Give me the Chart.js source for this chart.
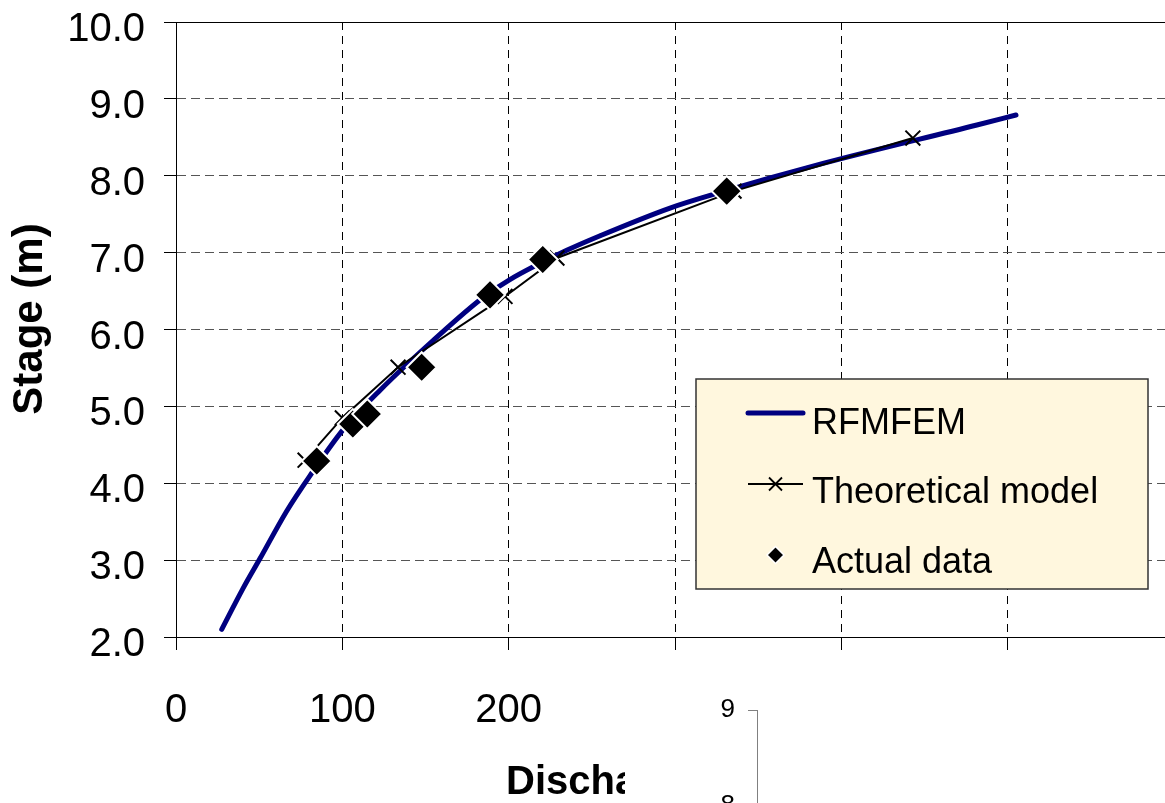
<!DOCTYPE html>
<html>
<head>
<meta charset="utf-8">
<script src="https://cdn.jsdelivr.net/npm/chart.js@4.4.1/dist/chart.umd.min.js"></script>
<style>
  html, body { margin: 0; padding: 0; background: #fff; overflow: hidden; }
  #main { position: absolute; left: 0; top: 0; width: 1174px; height: 803px; }
  #inset { position: absolute; left: 625px; top: 655px; width: 540px; height: 148px; background: #fff; overflow: hidden; }
  #insetWrap { position: absolute; left: 0; top: 0; width: 540px; height: 260px; }
</style>
</head>
<body>
<div id="main"><canvas id="ratingChart"></canvas></div>
<div id="inset"><div id="insetWrap"><canvas id="insetChart"></canvas></div></div>
<script>
  // Discharge (Q) / stage (H) pairs
  const rfmQ = [27.5, 40, 50.5, 66.6, 80.6, 100.6, 122.7, 154.7, 184.8, 200, 234.9, 255, 297, 325, 389, 481.5, 505];
  const rfmH = [2.10, 2.62, 3.02, 3.64, 4.10, 4.70, 5.21, 5.86, 6.42, 6.64, 7.03, 7.22, 7.58, 7.77, 8.16, 8.66, 8.79];

  const theoQ = [77.6, 100, 133.5, 197.8, 229, 335.5, 443];
  const theoH = [4.30, 4.85, 5.51, 6.43, 6.93, 7.80, 8.49];

  const obsQ = [84.6, 106.3, 115.0, 147.7, 188.8, 220.5, 331.1];
  const obsH = [4.29, 4.77, 4.90, 5.51, 6.45, 6.91, 7.80];

  const xMax = 600;
  const xTicks = [0, 100, 200, 300, 400, 500];
  const yTicks = [2, 3, 4, 5, 6, 7, 8, 9, 10];
  const insetTicks = [7, 8, 9];

  const NAVY = '#000080';
  const FONT = "'Liberation Sans', Arial, sans-serif";
  const PLOT_RIGHT = 1174;   // the plot runs a little past the right edge of the window

  function pairs(xs, ys) {
    return xs.map(function (x, i) { return { x: x, y: ys[i] }; });
  }

  /* ─── frame round the plot area ─── */
  const plotFrame = {
    id: 'plotFrame',
    beforeDatasetsDraw(chart) {
      const a = chart.chartArea, ctx = chart.ctx;
      ctx.save();
      ctx.strokeStyle = '#000';
      ctx.lineWidth = 1;
      ctx.strokeRect(Math.round(a.left) + 0.5, Math.round(a.top) + 0.5,
        Math.round(a.right - a.left), Math.round(a.bottom - a.top));
      ctx.restore();
    }
  };

  /* ─── legend box inside the plot ─── */
  const boxLegend = {
    id: 'boxLegend',
    afterDatasetsDraw(chart, args, opts) {
      const ctx = chart.ctx, b = opts.box;
      ctx.save();
      ctx.fillStyle = '#FFF7DE';
      ctx.strokeStyle = '#333';
      ctx.lineWidth = 1.5;
      ctx.fillRect(b.left, b.top, b.right - b.left, b.bottom - b.top);
      ctx.strokeRect(b.left, b.top, b.right - b.left, b.bottom - b.top);

      const sets = chart.data.datasets.slice().sort(function (p, q) { return q.order - p.order; });
      sets.forEach(function (ds, i) {
        const sy = opts.sampleY[i];
        if (ds.showLine) {
          ctx.strokeStyle = ds.borderColor;
          ctx.lineWidth = ds.borderWidth;
          ctx.lineCap = ds.borderCapStyle || 'butt';
          ctx.beginPath();
          ctx.moveTo(opts.lineX[0], sy);
          ctx.lineTo(opts.lineX[1], sy);
          ctx.stroke();
        }
        const mx = (opts.lineX[0] + opts.lineX[1]) / 2;
        if (ds.pointStyle === 'crossRot') {
          const r = 6.5;
          ctx.strokeStyle = '#000';
          ctx.lineWidth = 1.8;
          ctx.lineCap = 'butt';
          ctx.beginPath();
          ctx.moveTo(mx - r, sy - r); ctx.lineTo(mx + r, sy + r);
          ctx.moveTo(mx + r, sy - r); ctx.lineTo(mx - r, sy + r);
          ctx.stroke();
        } else if (ds.pointStyle === 'rectRot') {
          const r = 8.5;
          ctx.beginPath();
          ctx.moveTo(mx, sy - r); ctx.lineTo(mx + r, sy);
          ctx.lineTo(mx, sy + r); ctx.lineTo(mx - r, sy);
          ctx.closePath();
          ctx.fillStyle = '#000';
          ctx.fill();
          ctx.strokeStyle = '#fff';
          ctx.lineWidth = 1.5;
          ctx.stroke();
        }
        ctx.fillStyle = '#000';
        ctx.font = '36px ' + FONT;
        ctx.textAlign = 'left';
        ctx.textBaseline = 'alphabetic';
        ctx.fillText(ds.label, opts.textX, opts.baseY[i]);
      });
      ctx.restore();
    }
  };

  const main = document.getElementById('main');
  const chart = new Chart(document.getElementById('ratingChart'), {
    type: 'scatter',
    data: {
      datasets: [{
        label: 'RFMFEM',
        data: pairs(rfmQ, rfmH),
        showLine: true,
        borderColor: NAVY,
        borderWidth: 5,
        borderCapStyle: 'round',
        borderJoinStyle: 'round',
        cubicInterpolationMode: 'monotone',
        pointRadius: 0,
        pointHoverRadius: 0,
        order: 3
      }, {
        label: 'Theoretical model',
        data: pairs(theoQ, theoH),
        showLine: true,
        borderColor: '#000',
        borderWidth: 2,
        tension: 0,
        pointStyle: 'crossRot',
        pointRadius: 10.5,
        pointBorderColor: '#000',
        pointBorderWidth: 2,
        order: 2
      }, {
        label: 'Actual data',
        data: pairs(obsQ, obsH),
        showLine: false,
        pointStyle: 'rectRot',
        pointRadius: 15,
        pointBackgroundColor: '#000',
        pointBorderColor: '#fff',
        pointBorderWidth: 2,
        order: 1
      }]
    },
    options: {
      responsive: true,
      maintainAspectRatio: false,
      animation: false,
      layout: { padding: { top: 22, right: 0, bottom: 0, left: 0 } },
      plugins: {
        legend: { display: false },
        tooltip: { enabled: false },
        boxLegend: {
          box: { left: 696, top: 379, right: 1148, bottom: 589 },
          lineX: [748, 803],
          sampleY: [413, 484, 555],
          baseY: [434, 503, 573],
          textX: 812
        }
      },
      scales: {
        x: {
          type: 'linear',
          min: xTicks[0],
          max: xMax,
          afterBuildTicks: function (s) { s.ticks = xTicks.map(function (v) { return { value: v }; }); },
          afterFit: function (s) { s.height = 166; s.paddingLeft = 0; s.paddingRight = 0; },
          ticks: {
            color: '#000',
            font: { family: FONT, size: 40 },
            padding: 37,
            maxRotation: 0,
            autoSkip: false
          },
          grid: {
            color: '#000',
            lineWidth: 1,
            tickLength: 13,
            tickColor: '#000',
            tickBorderDash: []
          },
          border: { display: true, color: '#000', width: 1, dash: [8, 6] },
          title: {
            display: true,
            // the en space nudges the centred title to where the original sits
            text: '\u2002Discharge (m³/sec)',
            color: '#000',
            font: { family: FONT, size: 40, weight: 'bold', lineHeight: 1 },
            padding: 0
          }
        },
        y: {
          type: 'linear',
          min: yTicks[0],
          max: yTicks[yTicks.length - 1],
          afterBuildTicks: function (s) { s.ticks = yTicks.map(function (v) { return { value: v }; }); },
          afterFit: function (s) { s.width = 176; s.paddingTop = 0; s.paddingBottom = 0; },
          ticks: {
            color: '#000',
            font: { family: FONT, size: 40 },
            padding: 19,
            labelOffset: 8,
            callback: function (v) { return Number(v).toFixed(1); }
          },
          grid: {
            color: '#555',
            lineWidth: 1,
            tickLength: 12,
            tickColor: '#000',
            tickBorderDash: []
          },
          border: { display: true, color: '#000', width: 1, dash: [9, 5] },
          title: {
            display: true,
            text: '\u2002Stage (m)',
            color: '#000',
            font: { family: FONT, size: 42, weight: 'bold' },
            padding: { top: 5, bottom: 0 }
          }
        }
      }
    },
    plugins: [plotFrame, boxLegend]
  });

  // the layout keeps a few px of margin on the right; widen the box until the plot reaches PLOT_RIGHT
  for (let k = 0; k < 3 && Math.abs(chart.chartArea.right - PLOT_RIGHT) > 0.5; k++) {
    main.style.width = (main.getBoundingClientRect().width + PLOT_RIGHT - chart.chartArea.right) + 'px';
    chart.resize();
  }

  /* ─── fragment of the neighbouring chart's axis ─── */
  new Chart(document.getElementById('insetChart'), {
    type: 'scatter',
    data: { datasets: [{ data: [] }] },
    options: {
      responsive: true,
      maintainAspectRatio: false,
      animation: false,
      layout: { padding: { top: 55, right: 0, bottom: 13, left: 0 } },
      plugins: { legend: { display: false }, tooltip: { enabled: false } },
      scales: {
        x: { display: false, min: 0, max: 1 },
        y: {
          min: insetTicks[0],
          max: insetTicks[insetTicks.length - 1],
          afterBuildTicks: function (s) { s.ticks = insetTicks.map(function (v) { return { value: v }; }); },
          afterFit: function (s) { s.width = 132; s.paddingTop = 0; s.paddingBottom = 0; },
          ticks: {
            color: '#000',
            font: { family: FONT, size: 26 },
            padding: 13
          },
          grid: { drawOnChartArea: false, tickLength: 9, tickColor: '#808080' },
          border: { display: true, color: '#808080', width: 1 }
        }
      }
    }
  });
</script>
</body>
</html>
